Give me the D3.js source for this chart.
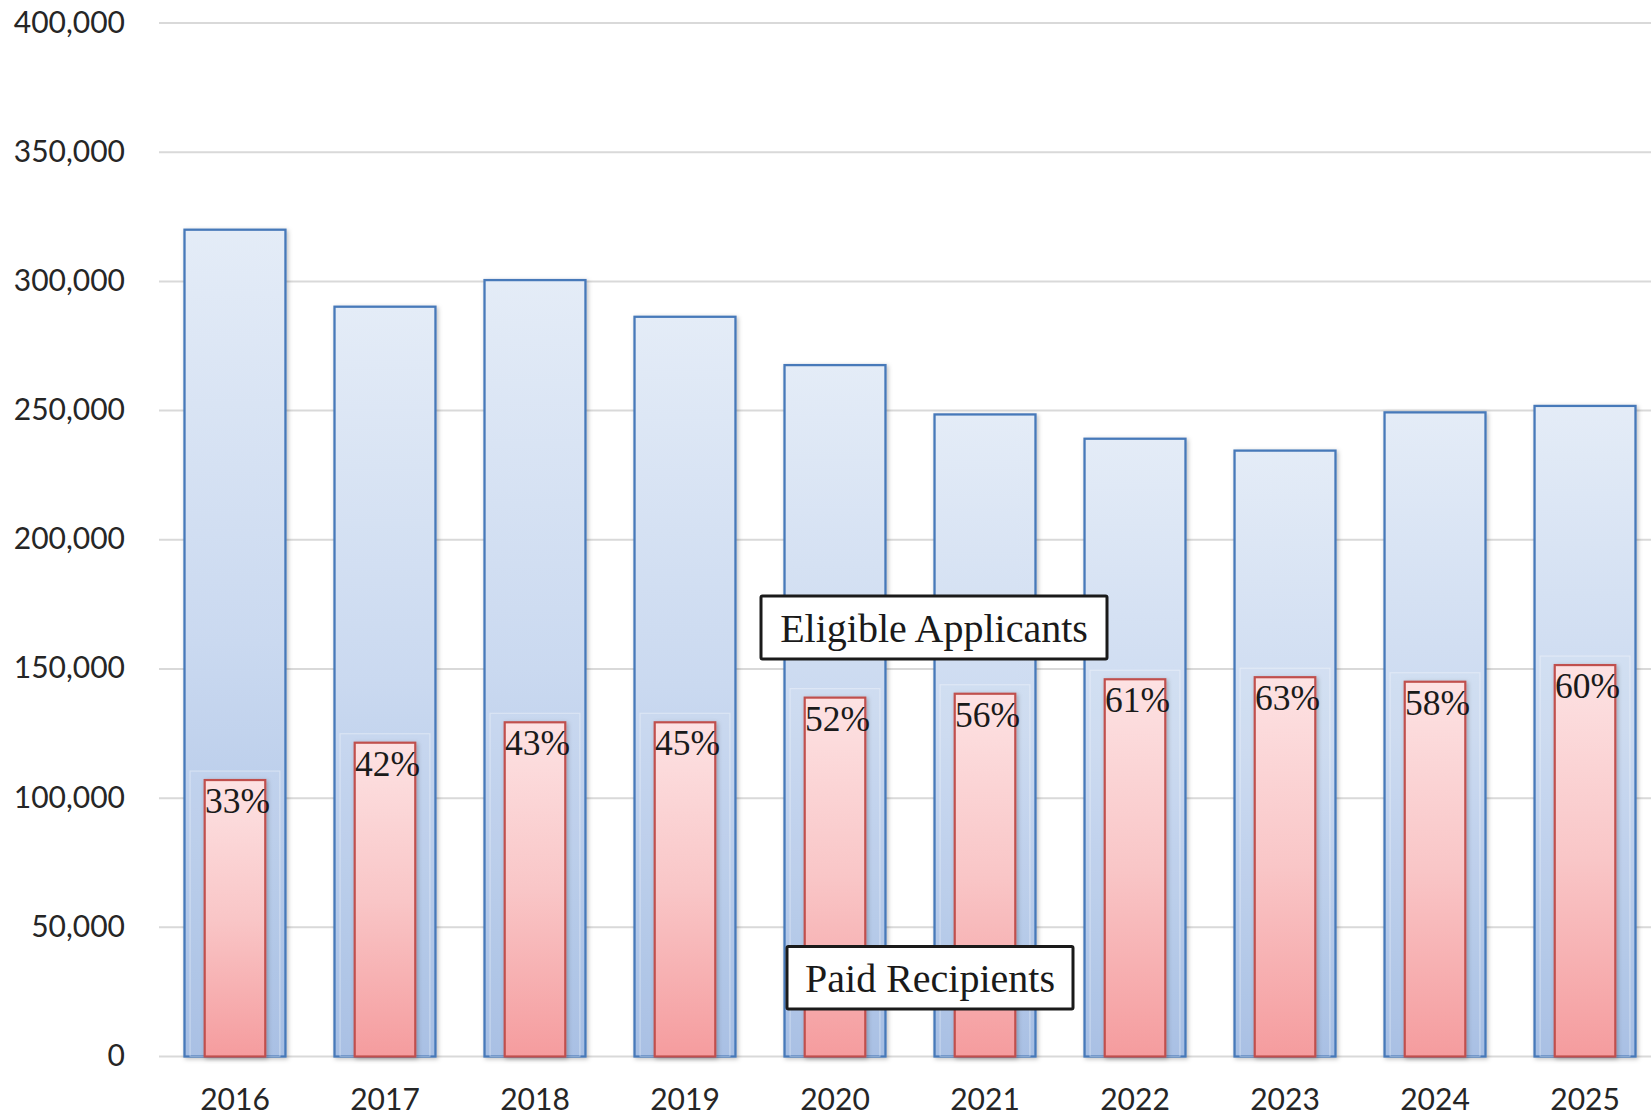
<!DOCTYPE html>
<html>
<head>
<meta charset="utf-8">
<script src="https://cdn.jsdelivr.net/npm/d3@7"></script>
<style>
  html, body { margin: 0; padding: 0; background: #ffffff; }
  svg { display: block; }
</style>
</head>
<body>
<svg id="chart" width="1651" height="1117"></svg>
<script>
// ---- Data ----
const years = ["2016","2017","2018","2019","2020","2021","2022","2023","2024","2025"];
const eligibleApplicants = [320000, 290200, 300500, 286300, 267600, 248500, 239100, 234500, 249300, 251800];
const paidRecipients = [107000, 121450, 129350, 129350, 138900, 140400, 146000, 146800, 145050, 151500];
const pctLabels = ["33%","42%","43%","45%","52%","56%","61%","63%","58%","60%"];
const yTicks = [0, 50000, 100000, 150000, 200000, 250000, 300000, 350000, 400000];

// ---- Layout ----
const W = 1651, H = 1117;
const plotLeft = 159, plotRight = 1661;
const yTop = 23, yBottom = 1056.5;

const svg = d3.select("#chart");

const defs = svg.append("defs");
const gBlue = defs.append("linearGradient").attr("id","gBlue").attr("x1",0).attr("y1",0).attr("x2",0).attr("y2",1);
gBlue.append("stop").attr("offset","0%").attr("stop-color","#e4ecf7");
gBlue.append("stop").attr("offset","50%").attr("stop-color","#cad9f0");
gBlue.append("stop").attr("offset","100%").attr("stop-color","#a4bde3");
const gRed = defs.append("linearGradient").attr("id","gRed").attr("x1",0).attr("y1",0).attr("x2",0).attr("y2",1);
gRed.append("stop").attr("offset","0%").attr("stop-color","#fde2e3");
gRed.append("stop").attr("offset","50%").attr("stop-color","#f9c6c7");
gRed.append("stop").attr("offset","100%").attr("stop-color","#f59c9e");
const shadow = defs.append("filter").attr("id","shadow").attr("x","-20%").attr("y","-20%").attr("width","140%").attr("height","140%");
shadow.append("feDropShadow").attr("dx",1.5).attr("dy",1.5).attr("stdDeviation",2).attr("flood-color","#000").attr("flood-opacity",0.25);

const x = d3.scaleBand().domain(years).range([plotLeft, plotRight]).paddingInner(0.327).paddingOuter(0.17);
const y = d3.scaleLinear().domain([0, 400000]).range([yBottom, yTop]);

// Gridlines
svg.append("g").selectAll("line").data(yTicks).join("line")
  .attr("x1", plotLeft).attr("x2", W)
  .attr("y1", d => y(d)).attr("y2", d => y(d))
  .attr("stroke", "#d9d9d9").attr("stroke-width", 2);

// Y axis labels
const yAxis = d3.axisLeft(y).tickValues(yTicks).tickSize(0).tickPadding(0).tickFormat(d3.format(","));
const yg = svg.append("g").attr("transform", "translate(125,0)").call(yAxis);
yg.select(".domain").remove();
yg.selectAll("text")
  .attr("font-family", "Lato, 'Noto Sans', sans-serif")
  .attr("font-size", 30).attr("fill", "#262626")
  .attr("dy", -3).attr("dominant-baseline", "central");

// X axis labels
const xAxis = d3.axisBottom(x).tickSize(0).tickPadding(0);
const xg = svg.append("g").attr("transform", `translate(0,${yBottom})`).call(xAxis);
xg.select(".domain").remove();
xg.selectAll("text")
  .attr("font-family", "Lato, 'Noto Sans', sans-serif")
  .attr("font-size", 30).attr("fill", "#262626")
  .attr("dy", null).attr("y", 53).attr("dominant-baseline", "alphabetic");

// Blue bars
const bw = x.bandwidth();
svg.append("g").selectAll("rect").data(years).join("rect")
  .attr("x", d => x(d))
  .attr("y", (d,i) => y(eligibleApplicants[i]))
  .attr("width", bw)
  .attr("height", (d,i) => yBottom - y(eligibleApplicants[i]))
  .attr("fill", "url(#gBlue)")
  .attr("stroke", "#4779b9").attr("stroke-width", 2.3)
  .attr("filter", "url(#shadow)");

// Faint glow rect behind red bars
const rw = bw * 0.6;
const gw = bw * 0.89;
svg.append("g").selectAll("rect").data(years).join("rect")
  .attr("x", d => x(d) + (bw - gw)/2)
  .attr("y", (d,i) => y(paidRecipients[i]) - 9)
  .attr("width", gw)
  .attr("height", (d,i) => yBottom - y(paidRecipients[i]) + 9)
  .attr("fill", "#ffffff").attr("fill-opacity", 0.06)
  .attr("stroke", "#ffffff").attr("stroke-opacity", 0.35).attr("stroke-width", 1.2);

// Red bars
svg.append("g").selectAll("rect").data(years).join("rect")
  .attr("x", d => x(d) + (bw - rw)/2)
  .attr("y", (d,i) => y(paidRecipients[i]))
  .attr("width", rw)
  .attr("height", (d,i) => yBottom - y(paidRecipients[i]))
  .attr("fill", "url(#gRed)")
  .attr("stroke", "#c0504d").attr("stroke-width", 2.2)
  .attr("filter", "url(#shadow)");

// Percent labels
svg.append("g").selectAll("text").data(years).join("text")
  .attr("x", d => x(d) + bw/2 + 2.5)
  .attr("y", (d,i) => y(paidRecipients[i]) + 33)
  .attr("text-anchor", "middle")
  .attr("font-family", "'Liberation Serif', 'Times New Roman', serif")
  .attr("font-size", 35.5).attr("fill", "#1a1a1a")
  .text((d,i) => pctLabels[i]);

// Legend annotation boxes
function labelBox(x0, y0, w, h, txt) {
  const g = svg.append("g");
  g.append("rect").attr("x", x0).attr("y", y0).attr("width", w).attr("height", h)
    .attr("fill", "#ffffff").attr("stroke", "#1a1a1a").attr("stroke-width", 3)
    .attr("rx", 1.5);
  g.append("text").attr("x", x0 + w/2).attr("y", y0 + h/2 + 14)
    .attr("text-anchor", "middle")
    .attr("font-family", "'Liberation Serif', 'Times New Roman', serif")
    .attr("font-size", 40).attr("fill", "#1a1a1a")
    .text(txt);
}
labelBox(761, 596, 346, 63, "Eligible Applicants");
labelBox(787, 946.5, 286, 62.5, "Paid Recipients");
</script>
</body>
</html>
